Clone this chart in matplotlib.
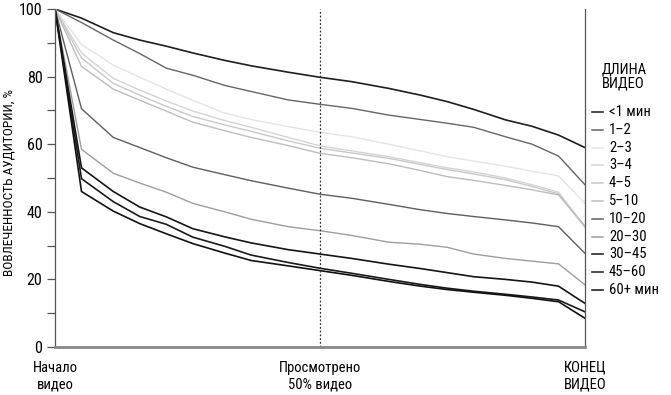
import matplotlib
matplotlib.use("Agg")
import matplotlib.pyplot as plt
from matplotlib import font_manager
from matplotlib.lines import Line2D

names = {f.name for f in font_manager.fontManager.ttflist}
fam = [n for n in ["Liberation Sans Narrow", "Roboto Condensed", "Open Sans Condensed", "Liberation Sans"] if n in names]
plt.rcParams['font.family'] = fam[:1] + ['DejaVu Sans']

# progress through video, %
progress = [0, 5, 11, 16, 21, 26, 32, 37, 44, 50, 56, 63, 69, 74, 79, 85, 90, 95, 100]

lt1 = [100, 97.3, 93.0, 90.8, 89.0, 87.0, 84.8, 83.2, 81.3, 79.8, 78.5, 76.5, 74.5, 72.6, 70.3, 67.2, 65.3, 62.7, 59.0]
m1_2 = [100, 96.0, 90.8, 86.8, 82.5, 80.4, 77.4, 75.6, 73.1, 71.8, 70.6, 68.6, 67.3, 66.2, 65.0, 62.2, 60.0, 56.5, 48.0]
m2_3 = [100, 89.5, 83.4, 79.8, 76.3, 73.0, 69.2, 67.3, 65.2, 63.5, 62.2, 60.0, 58.0, 56.3, 55.0, 53.5, 52.0, 50.6, 42.5]
m3_4 = [100, 87.0, 79.5, 76.0, 72.8, 69.8, 67.0, 65.0, 62.0, 59.5, 58.0, 56.3, 54.5, 53.0, 51.8, 50.0, 48.0, 45.8, 35.6]
m4_5 = [100, 85.5, 78.0, 74.5, 71.2, 68.2, 65.7, 63.8, 61.0, 58.8, 57.4, 55.8, 54.0, 52.5, 51.2, 49.5, 47.5, 45.3, 35.4]
m5_10 = [100, 83.0, 76.3, 73.0, 69.8, 66.5, 64.0, 62.0, 59.6, 57.3, 56.0, 54.2, 52.2, 50.4, 49.3, 47.8, 46.5, 45.0, 35.8]
m10_20 = [100, 70.5, 62.0, 59.0, 56.0, 53.2, 51.0, 49.2, 47.0, 45.2, 44.0, 42.2, 40.6, 39.5, 38.6, 37.6, 36.7, 35.6, 27.7]
m20_30 = [100, 58.5, 51.4, 48.5, 45.8, 42.5, 40.0, 37.8, 35.6, 34.4, 33.0, 31.0, 30.4, 29.5, 27.5, 26.2, 25.4, 24.6, 18.4]
m30_45 = [100, 53.0, 46.0, 41.4, 38.5, 35.0, 32.6, 30.8, 28.8, 27.5, 26.2, 24.5, 23.2, 22.0, 20.8, 20.0, 19.2, 18.0, 12.9]
m45_60 = [100, 49.8, 43.0, 38.6, 36.3, 32.5, 29.8, 27.2, 25.0, 23.3, 21.8, 20.0, 18.5, 17.4, 16.5, 15.6, 14.8, 13.9, 10.4]
m60p = [100, 46.0, 40.2, 36.5, 33.5, 30.6, 27.8, 25.6, 24.0, 22.6, 21.2, 19.4, 18.0, 17.0, 16.2, 15.3, 14.4, 13.4, 8.5]

labels = ["<1 мин", "1–2", "2–3", "3–4", "4–5", "5–10", "10–20", "20–30", "30–45", "45–60", "60+ мин"]
series = [lt1, m1_2, m2_3, m3_4, m4_5, m5_10, m10_20, m20_30, m30_45, m45_60, m60p]
colors = ["#1e1e1e", "#666666", "#e4e4e4", "#d4d4d4", "#c8c8c8", "#bdbdbd",
          "#5e5e5e", "#9e9e9e", "#151515", "#1a1a1a", "#111111"]
widths = [1.2, 1.0, 1.0, 1.0, 1.0, 1.0, 1.0, 1.0, 1.2, 1.2, 1.2]

y_ticks = [0, 20, 40, 60, 80, 100]
x_ticks = [0, 50, 100]
x_ticklabels = ["Начало\nвидео", "Просмотрено\n50% видео", "КОНЕЦ\nВИДЕО"]
y_title = "ВОВЛЕЧЕННОСТЬ АУДИТОРИИ, %"

W, H = 671, 395
fig = plt.figure(figsize=(W / 100, H / 100), dpi=100)
ax = fig.add_axes([55 / W, 1 - 347 / H, (585 - 55) / W, (347 - 9) / H])

for s, c, lw in zip(series, colors, widths):
    ax.plot(progress, s, color=c, lw=lw, solid_joinstyle='miter')

ax.axvline(50, color="#333333", lw=0.9, ls=(0, (1.5, 1.5)))

ax.set_xlim(0, 100)
ax.set_ylim(0, 100)
ax.set_yticks(y_ticks)
ax.set_yticks([10, 30, 50, 70, 90], minor=True)
ax.set_xticks(x_ticks)
ax.set_xticklabels(x_ticklabels, fontsize=10.5, linespacing=1.25)
ax.tick_params(axis='y', which='both', length=6, width=0.9, color="#555555",
               labelsize=11.5, pad=3)
ax.tick_params(axis='x', length=0, pad=10)

ax.spines["top"].set_visible(False)
ax.spines["left"].set_color("#555555")
ax.spines["left"].set_linewidth(0.9)
ax.spines["right"].set_color("#555555")
ax.spines["right"].set_linewidth(0.9)
ax.spines["bottom"].set_color("#888888")
ax.spines["bottom"].set_linewidth(2.0)

fig.text(9.5 / W, 1 - 182 / H, y_title, fontsize=9.6, rotation=90,
         ha='center', va='center')

# legend
fig.text(602 / W, 1 - 62 / H, "ДЛИНА\nВИДЕО", fontsize=10.5, ha='left', va='top',
         linespacing=1.05)
y0, dy = 112, 17.8
for i, (lab, c) in enumerate(zip(labels, colors)):
    yy = 1 - (y0 + i * dy) / H
    fig.add_artist(Line2D([592 / W, 603 / W], [yy, yy], color=c, lw=1.1,
                          transform=fig.transFigure))
    fig.text(609 / W, yy, lab, fontsize=10.5, ha='left', va='center')

fig.savefig("out.png", dpi=100)
